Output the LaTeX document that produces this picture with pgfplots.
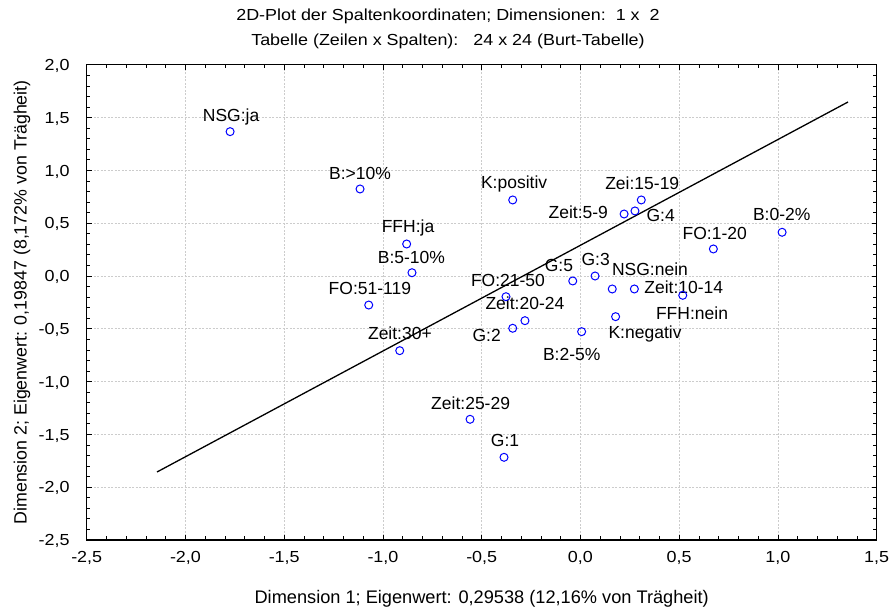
\documentclass[border=0pt]{standalone}
\usepackage{fontspec}
\setmainfont{Liberation Sans}
\newfontfamily\widefont[FakeStretch=1.12]{Liberation Sans}
\usepackage{pgfplots}
\pgfplotsset{compat=1.18}
\begin{document}
\begin{tikzpicture}
\begin{axis}[
  scale only axis, width=790pt, height=475.2pt,
  xmin=-2.5, xmax=1.5, ymin=-2.5, ymax=2,
  xtick={-2.5,-2,-1.5,-1,-0.5,0,0.5,1,1.5},
  ytick={-2.5,-2,-1.5,-1,-0.5,0,0.5,1,1.5,2},
  minor x tick num=4, minor y tick num=4,
  major tick length=5pt, minor tick length=3.5pt,
  tick style={black, line width=0.8pt},
  axis line style={line width=1.4pt},
  grid=major,
  major grid style={black!20, dash pattern=on 2pt off 1.5pt, line width=0.6pt},
  /pgf/number format/use comma,
  /pgf/number format/fixed,
  /pgf/number format/fixed zerofill,
  /pgf/number format/precision=1,
  /pgf/number format/assume math mode=true,
  ticklabel style={font=\widefont\fontsize{16}{16}\selectfont},
  xticklabel style={anchor=base, yshift=-22.3pt},
  yticklabel style={anchor=east, inner sep=0pt, xshift=-17pt, text height=11.5pt, text depth=0pt},
  clip=false,
]
\addplot[only marks, mark=o, mark size=4pt, blue, mark options={line width=1pt}] coordinates {
  (-1.774,1.367) (-1.116,0.824) (-0.880,0.303) (-0.853,0.031) (-1.072,-0.275)
  (-0.915,-0.707) (-0.377,-0.196) (-0.281,-0.423) (-0.343,-0.495) (-0.343,0.720)
  (0.308,0.720) (0.221,0.587) (0.276,0.616) (0.673,0.256) (1.021,0.414)
  (-0.039,-0.047) (0.074,0.000) (0.161,-0.123) (0.273,-0.123) (0.518,-0.183)
  (0.178,-0.385) (0.006,-0.527) (-0.559,-1.357) (-0.387,-1.717)
};
\addplot[black, line width=1.3pt] coordinates {(-2.144,-1.856) (1.355,1.648)};
\begin{scope}[every node/.style={font=\fontsize{17.5}{17.5}\selectfont, inner sep=0pt}]
\node at (axis cs:-1.769,1.509) {NSG:ja};
\node at (axis cs:-1.116,0.969) {B:>10\%};
\node at (axis cs:-0.873,0.457) {FFH:ja};
\node at (axis cs:-0.856,0.180) {B:5-10\%};
\node at (axis cs:-1.066,-0.114) {FO:51-119};
\node at (axis cs:-0.914,-0.543) {Zeit:30+};
\node at (axis cs:-0.367,-0.038) {FO:21-50};
\node at (axis cs:-0.281,-0.262) {Zeit:20-24};
\node at (axis cs:-0.475,-0.559) {G:2};
\node at (axis cs:-0.336,0.874) {K:positiv};
\node at (axis cs:0.313,0.874) {Zei:15-19};
\node at (axis cs:-0.011,0.603) {Zeit:5-9};
\node at (axis cs:0.406,0.575) {G:4};
\node at (axis cs:0.680,0.404) {FO:1-20};
\node at (axis cs:1.019,0.578) {B:0-2\%};
\node at (axis cs:-0.109,0.098) {G:5};
\node at (axis cs:0.077,0.161) {G:3};
\node at (axis cs:0.352,0.066) {NSG:nein};
\node at (axis cs:0.523,-0.111) {Zeit:10-14};
\node at (axis cs:0.565,-0.357) {FFH:nein};
\node at (axis cs:0.327,-0.552) {K:negativ};
\node at (axis cs:-0.044,-0.741) {B:2-5\%};
\node at (axis cs:-0.556,-1.203) {Zeit:25-29};
\node at (axis cs:-0.382,-1.553) {G:1};
\end{scope}
\end{axis}
\node[anchor=base, font=\widefont\fontsize{16}{16}\selectfont, inner sep=0pt] at (361.3pt,519.3pt) {2D-Plot der Spaltenkoordinaten; Dimensionen:\ \ 1 x\ \ 2};
\node[anchor=base, font=\widefont\fontsize{16}{16}\selectfont, inner sep=0pt] at (361.3pt,494.3pt) {Tabelle (Zeilen x Spalten):\ \ \ 24 x 24 (Burt-Tabelle)};
\node[anchor=base, font=\fontsize{18.2}{18.2}\selectfont, inner sep=0pt] at (395pt,-63.3pt) {Dimension 1; Eigenwert: 0,29538 (12,16\% von Trägheit)};
\node[anchor=base, rotate=90, font=\fontsize{17.8}{17.8}\selectfont, inner sep=0pt] at (-60pt,237.6pt) {Dimension 2; Eigenwert: 0,19847 (8,172\% von Trägheit)};
\pgfresetboundingbox
\path[use as bounding box] (-86.7pt,-70pt) rectangle (805.3pt,540pt);
\end{tikzpicture}
\end{document}
